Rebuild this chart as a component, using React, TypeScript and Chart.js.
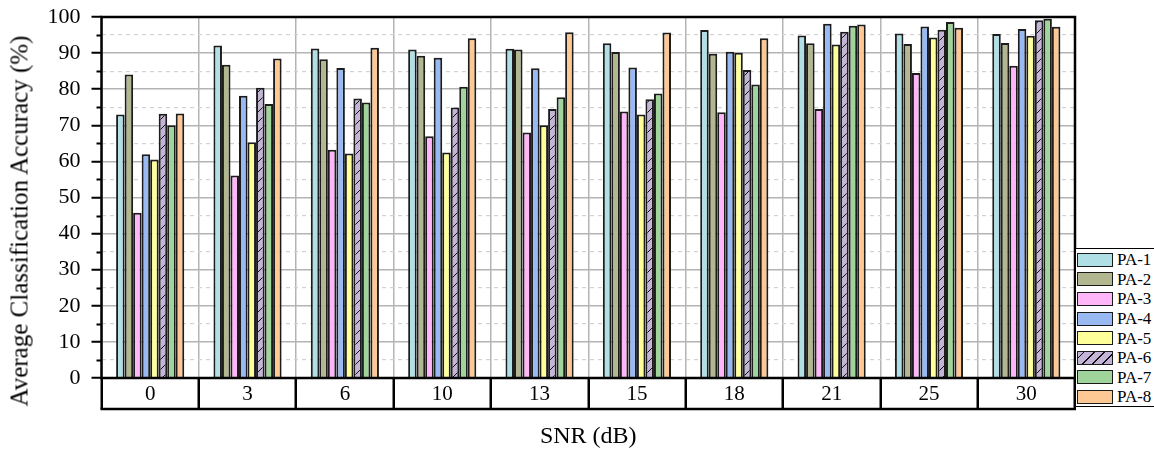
import React, { useEffect, useRef } from "react";
import { Chart, registerables } from "chart.js";

Chart.register(...registerables);

const categories = ["0", "3", "6", "10", "13", "15", "18", "21", "25", "30"];
const seriesNames = ["PA-1", "PA-2", "PA-3", "PA-4", "PA-5", "PA-6", "PA-7", "PA-8"];
const pa1 = [73.0, 92.1, 91.3, 91.0, 91.2, 92.7, 96.4, 94.9, 95.4, 95.3];
const pa2 = [84.1, 86.8, 88.3, 89.3, 91.0, 90.3, 89.8, 92.7, 92.5, 92.8];
const pa3 = [45.8, 56.1, 63.2, 67.0, 68.0, 73.8, 73.6, 74.5, 84.5, 86.5];
const pa4 = [62.0, 78.2, 85.9, 88.7, 85.8, 86.0, 90.4, 98.1, 97.4, 96.7];
const pa5 = [60.5, 65.3, 62.2, 62.5, 70.0, 73.0, 90.1, 92.4, 94.3, 94.8];
const pa6 = [73.2, 80.4, 77.4, 74.9, 74.5, 77.2, 85.3, 95.9, 96.5, 99.1];
const pa7 = [70.0, 75.9, 76.3, 80.7, 77.8, 78.8, 81.3, 97.6, 98.6, 99.5];
const pa8 = [73.3, 88.5, 91.5, 94.1, 95.8, 95.7, 94.1, 97.9, 97.0, 97.3];
const seriesValues = [pa1, pa2, pa3, pa4, pa5, pa6, pa7, pa8];
const seriesColors = ["#B0E0E6", "#B3B78F", "#FFB6F8", "#99B9F2", "#FFFF99", "#C4B4D8", "#9FD49B", "#FDC894"];
const hatchedSeries = "PA-6";
const yMin = 0;
const yMax = 100;
const yStep = 5;
const xTitle = "SNR (dB)";
const yTitle = "Average Classification Accuracy (%)";

const FONT = "'Liberation Serif', 'Times New Roman', serif";

function makeHatch(color: string): CanvasPattern | string {
  const s = 10;
  const c = document.createElement("canvas");
  c.width = s;
  c.height = s;
  const g = c.getContext("2d");
  if (!g) return color;
  g.fillStyle = color;
  g.fillRect(0, 0, s, s);
  g.strokeStyle = "#111";
  g.lineWidth = 1;
  g.beginPath();
  g.moveTo(0, s);
  g.lineTo(s, 0);
  g.moveTo(-2, 2);
  g.lineTo(2, -2);
  g.moveTo(s - 2, s + 2);
  g.lineTo(s + 2, s - 2);
  g.stroke();
  const p = g.createPattern(c, "repeat");
  return p || color;
}

const framePlugin = {
  id: "frameBox",
  afterDraw(chart: any) {
    const { ctx, chartArea: a, scales } = chart;
    ctx.save();
    ctx.strokeStyle = "#000";
    const y = scales.y;
    ctx.lineWidth = 2;
    ctx.beginPath();
    for (let v = yMin + 5; v < yMax; v += 10) {
      const py = Math.round(y.getPixelForValue(v)) + 0.5;
      ctx.moveTo(a.left - 5, py);
      ctx.lineTo(a.left, py);
    }
    ctx.stroke();
    ctx.lineWidth = 2.5;
    ctx.strokeRect(a.left, a.top, a.right - a.left, a.bottom - a.top);
    ctx.beginPath();
    ctx.moveTo(a.left - 1, a.bottom + 31);
    ctx.lineTo(a.right + 1, a.bottom + 31);
    ctx.stroke();
    ctx.restore();
  },
};

export default function App() {
  const canvasRef = useRef<HTMLCanvasElement | null>(null);

  useEffect(() => {
    document.body.style.margin = "0";
    const canvas = canvasRef.current;
    if (!canvas) return;
    const datasets = seriesNames.map((name, i) => ({
      label: name,
      data: seriesValues[i],
      backgroundColor: name === hatchedSeries ? makeHatch(seriesColors[i]) : seriesColors[i],
      borderColor: "#1c1c1c",
      borderWidth: 2,
      barPercentage: 1.0,
      categoryPercentage: 0.7,
    }));
    const chart = new Chart(canvas, {
      type: "bar",
      data: { labels: categories, datasets: datasets as any },
      plugins: [framePlugin as any],
      options: {
        animation: false,
        responsive: false,
        devicePixelRatio: 1,
        layout: { padding: { top: 17, right: 79, left: 0, bottom: 0 } },
        plugins: {
          legend: { display: false },
          tooltip: { enabled: false },
        },
        scales: {
          x: {
            grid: {
              offset: true,
              color: "#b4b4b4",
              lineWidth: 1.5,
              drawTicks: true,
              tickLength: 31,
              tickColor: "#000",
              tickWidth: 2.5,
            },
            border: { display: false },
            ticks: {
              color: "#000",
              padding: -27,
              font: { family: FONT, size: 21 },
              maxRotation: 0,
            },
            title: {
              display: true,
              text: xTitle,
              color: "#000",
              font: { family: FONT, size: 24, lineHeight: 1 },
              padding: { top: 0, bottom: 0 },
            },
            afterFit: (s: any) => {
              s.height = 71;
              s.paddingLeft = 0;
              s.paddingRight = 0;
            },
          },
          y: {
            min: yMin,
            max: yMax,
            grid: {
              color: (c: any) => (c.tick && c.tick.value % 10 !== 0 ? "#d2d2d2" : "#b4b4b4"),
              lineWidth: (c: any) => (c.tick && c.tick.value % 10 !== 0 ? 1.2 : 1.5),
              drawTicks: true,
              tickLength: 10,
              tickWidth: 2,
              tickColor: (c: any) => (c.tick && c.tick.value % 10 !== 0 ? "rgba(0,0,0,0)" : "#000"),
            },
            border: {
              display: false,
              dash: (c: any) => (c.tick && c.tick.value % 10 !== 0 ? [4, 4] : []),
            },
            ticks: {
              stepSize: yStep,
              autoSkip: false,
              color: "#000",
              padding: 11,
              font: { family: FONT, size: 22 },
              callback: (v: any) => (Number(v) % 10 === 0 ? String(v) : ""),
            },
            afterFit: (s: any) => {
              s.width = 101.5;
              s.paddingTop = 0;
              s.paddingBottom = 0;
            },
          },
        },
      },
    });
    return () => chart.destroy();
  }, []);

  const hatchCss = "repeating-linear-gradient(-45deg, #C4B4D8 0px, #C4B4D8 6px, #111 6px, #111 7.2px)";

  return (
    <div style={{ position: "relative", width: 1154, height: 449, overflow: "hidden", background: "#fff" }}>
      <canvas ref={canvasRef} width={1154} height={449} style={{ display: "block", width: 1154, height: 449 }} />
      <div
        style={{
          position: "absolute",
          left: 19,
          top: 221,
          transform: "translate(-50%, -50%) rotate(-90deg)",
          whiteSpace: "nowrap",
          fontFamily: FONT,
          fontSize: 25,
          lineHeight: 1,
          color: "#000",
        }}
      >
        {yTitle}
      </div>
      <div
        style={{
          position: "absolute",
          left: 1075,
          top: 248,
          width: 90,
          height: 159,
          border: "1.5px solid #000",
          boxSizing: "border-box",
          background: "#fff",
          paddingTop: 1,
        }}
      >
        {seriesNames.map((name, i) => (
          <div key={name} style={{ display: "flex", alignItems: "center", height: 19.6 }}>
            <div
              style={{
                width: 36,
                height: 14,
                marginLeft: 1,
                boxSizing: "border-box",
                border: "1.5px solid #1a1a1a",
                background: name === hatchedSeries ? hatchCss : seriesColors[i],
              }}
            />
            <span style={{ marginLeft: 4, fontFamily: FONT, fontSize: 17, color: "#000", lineHeight: 1 }}>{name}</span>
          </div>
        ))}
      </div>
    </div>
  );
}
